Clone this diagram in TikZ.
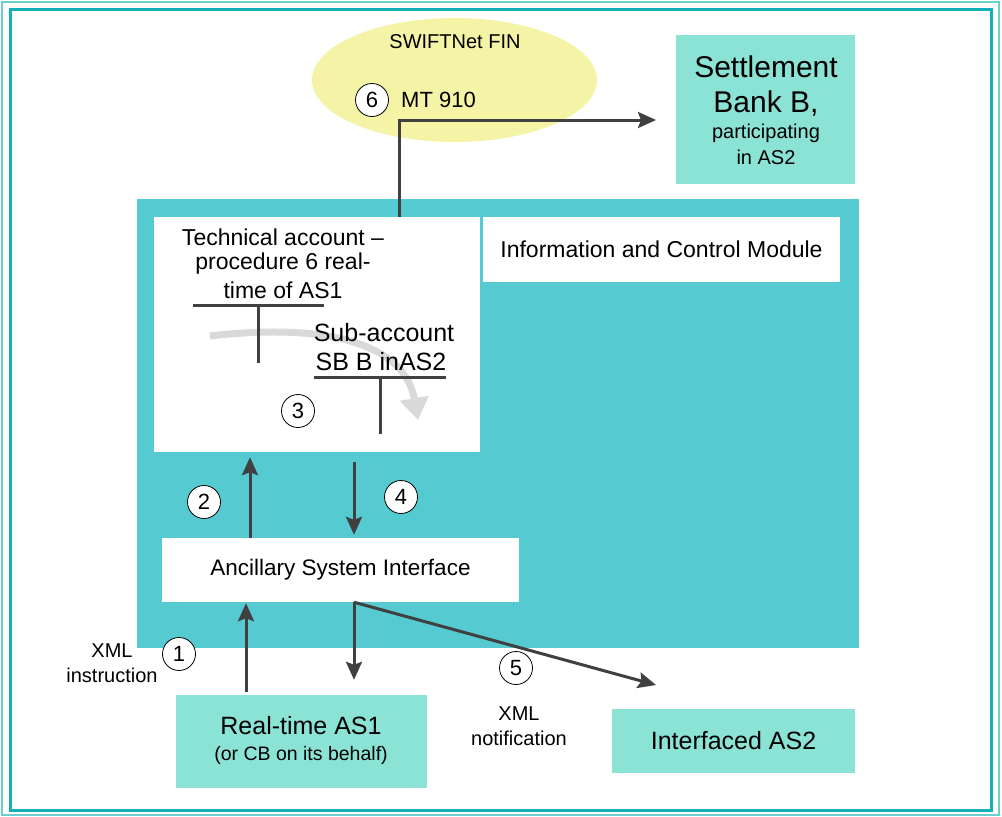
\documentclass[tikz,border=0pt]{standalone}
\usepackage{fontspec}
\setmainfont{Liberation Sans}
\usetikzlibrary{arrows.meta,calc,shapes.geometric}
\definecolor{mainteal}{HTML}{55CBD1}
\definecolor{lightteal}{HTML}{8BE3D5}
\definecolor{ellfill}{HTML}{F5F3A6}
\definecolor{frameout}{HTML}{6CCFCF}
\definecolor{framein}{HTML}{12B1B8}
\definecolor{arrgray}{HTML}{404040}
\newcommand{\fs}[1]{\fontsize{#1}{#1}\selectfont}
\tikzset{
  box/.style={draw=none, inner sep=0pt, align=center},
  arr/.style={draw=arrgray, line width=3pt, -{Stealth[length=18pt,width=16pt,inset=3pt]}},
  num/.style={circle, draw=black, line width=0.8pt, fill=white, minimum size=33pt, inner sep=0pt, font=\fs{22}},
  tline/.style={draw=arrgray, line width=3pt},
  lbl/.style={inner sep=0pt, align=center}
}
\begin{document}
\begin{tikzpicture}[x=1pt,y=-1pt]
\useasboundingbox (0,0) rectangle (1002,817);
\fill[white] (0,0) rectangle (1002,817);
\draw[frameout, line width=2pt] (2,2) rectangle (999,815);
\draw[framein, line width=3pt] (10,9) rectangle (991,810);

% ellipse
\node (swift) [ellipse, fill=ellfill, minimum width=285pt, minimum height=124pt, inner sep=0pt] at (454.5,80) {};
\node (swiftlbl) [lbl, font=\fs{20}] at (455,42) {SWIFTNet FIN};
\node (mt) [lbl, font=\fs{22}, anchor=west] at (401,100) {MT 910};
\node (n6) [num] at (372,100) {6};

% settlement bank
\node (sbb) [box, fill=lightteal, minimum width=179pt, minimum height=149pt] at (765.5,109.5) {};
\node [lbl, font=\fs{30}] at (766,67) {Settlement};
\node [lbl, font=\fs{30}] at (766,104) {Bank B,};
\node [lbl, font=\fs{20}] at (766,133) {participating};
\node [lbl, font=\fs{20}] at (766,157) {in AS2};

% main module
\node (main) [box, fill=mainteal, minimum width=722pt, minimum height=449pt] at (498,423.5) {};
\node (tech) [box, fill=white, minimum width=326pt, minimum height=235pt] at (317,334.5) {};
\node (icm) [box, fill=white, minimum width=357pt, minimum height=65pt, font=\fs{23}] at (661.5,249.5) {Information and Control Module};
\node (asi) [box, fill=white, minimum width=357pt, minimum height=64pt, font=\fs{22.5}] at (340.5,570) {Ancillary System Interface};

% gray curve
\draw[line width=7pt, black!15, -{Triangle[length=22pt,width=28pt]}] (210,336) .. controls (330,322) and (405,345) .. (418,420);

% tech account text and T lines
\node (ta1) [lbl, font=\fs{23}] at (283,237) {Technical account –};
\node (ta2) [lbl, font=\fs{23}] at (283,264) {procedure 6 real-};
\node (ta3) [lbl, font=\fs{23}] at (283,290) {time of AS1};
\draw[tline] (193,305) -- (324,305);
\draw[tline] (258,305) -- (258,363);
\node (sa1) [lbl, font=\fs{25}] at (384,333) {Sub-account};
\node (sa2) [lbl, font=\fs{25}] at (381,362) {SB B inAS2};
\draw[tline] (314,377) -- (446,377);
\draw[tline] (380,377) -- (380,434);
\node (n3) [num] at (298,411) {3};

% bottom boxes
\node (as1) [box, fill=lightteal, minimum width=251pt, minimum height=93pt] at (301.5,741.5) {};
\node [lbl, font=\fs{25}] at (301,726) {Real-time AS1};
\node [lbl, font=\fs{19.5}] at (301,755) {(or CB on its behalf)};
\node (ias2) [box, fill=lightteal, minimum width=243pt, minimum height=64pt, font=\fs{25}] at (733.5,741) {Interfaced AS2};

% labels
\node (xml1) [lbl, font=\fs{20}] at (112,651) {XML};
\node (xml1b) [lbl, font=\fs{20}] at (112,675) {instruction};
\node (xml5) [lbl, font=\fs{20}] at (519,714) {XML};
\node (xml5b) [lbl, font=\fs{20}] at (519,738) {notification};

% arrows
\coordinate (c6) at (399,120);
\coordinate (e6) at (656,120);
\draw[arr] (c6 |- tech.north) -- (c6) -- (e6);

\coordinate (c2) at (250,0);
\draw[arr] (c2 |- asi.north) -- ([yshift=-5pt]c2 |- tech.south);
\coordinate (c4) at (354,0);
\draw[arr] ([yshift=-10pt]c4 |- tech.south) -- ([yshift=3pt]c4 |- asi.north);
\coordinate (c1) at (246,0);
\draw[arr] ([yshift=3pt]c1 |- as1.north) -- ([yshift=-1pt]c1 |- asi.south);
\draw[arr] (c4 |- asi.south) -- ([yshift=15pt]c4 |- as1.north);
\coordinate (e5) at (656,685);
\draw[arr] (c4 |- asi.south) -- (e5);

\node (n2) [num] at (204,502) {2};
\node (n4) [num] at (401,497) {4};
\node (n1) [num] at (179,654) {1};
\node (n5) [num] at (516,668) {5};
\end{tikzpicture}
\end{document}
